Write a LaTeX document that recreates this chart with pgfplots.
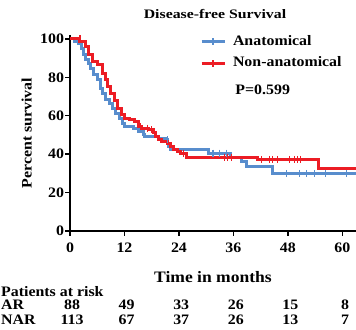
\documentclass[border=0pt]{standalone}
\usepackage{fontspec}
\setmainfont{Liberation Serif}[FakeStretch=1.1]
\newfontfamily\titlefont{Liberation Serif}[FakeStretch=1.22]
\usepackage{pgfplots}
\pgfplotsset{compat=1.18}
\definecolor{anablue}{RGB}{88,141,205}
\definecolor{nonred}{RGB}{236,28,36}
\begin{document}
\fontsize{14.5}{17}\selectfont\bfseries
\begin{tikzpicture}
\begin{axis}[
  at={(70bp,99bp)}, anchor=origin,
  scale only axis, width=286bp, height=196bp,
  xmin=0, xmax=63, ymin=0, ymax=102,
  axis lines=left,
  axis line style={-, line width=1.6bp, black},
  xtick={0,12,...,60}, ytick={0,20,...,100},
  tick style={line width=1.4bp, black},
  tick align=outside, major tick length=5bp,
  /pgf/number format/assume math mode=true,
  ticklabel style={font=\fontsize{14.5}{17}\selectfont\bfseries},
  xticklabel style={anchor=base, yshift=-22bp+5bp},
  yticklabel style={inner sep=0.8bp},
  xlabel={Time in months},
  xlabel style={at={(rel axis cs:0.5,-0.262)}, anchor=base, font=\fontsize{16}{19}\selectfont\bfseries},
  ylabel={Percent survival},
  ylabel style={at={(rel axis cs:-0.134,0.5)}, anchor=base, rotate=0, font=\fontsize{14.5}{17}\selectfont\bfseries},
  clip=false,
  legend style={at={(axis cs:28.6,103)}, anchor=north west, draw=none, fill=none,
    inner sep=0pt, row sep=5.5bp, column sep=5bp, cells={anchor=west},
    font=\fontsize{14.5}{17}\selectfont\bfseries},
  legend image code/.code={
    \draw[#1, line width=3bp] (0bp,0bp) -- (23bp,0bp);
    \draw[#1, line width=1.2bp] (11.5bp,-3.5bp) -- (11.5bp,3.5bp);
  },
]
% Anatomical (blue)
\addplot[const plot, color=anablue, line width=3bp] coordinates {
(0,100)(1.1,98.6)(1.9,97.7)(2.6,95)(3,91.7)(3.4,89)(4.1,87.3)(4.5,84.7)
(5.25,81.2)(6,78.6)(6.75,74.3)(7.1,71.7)(7.9,68.2)(8.6,66.5)(9.4,63.9)
(10.1,61.3)(10.9,58.7)(11.6,56)(12,54.3)(13.9,53.5)(15,51.7)(16.1,50)
(16.5,49.1)(19.5,48.3)(21,47.4)(21.4,45.3)(21.75,44)(22.1,42.4)
(30.5,40.5)(35.4,38.2)(37.8,36.3)(38.9,33.8)(44.5,30)(63,30)
};
\addlegendentry{Anatomical}
% Non-anatomical (red)
\addplot[const plot, color=nonred, line width=3bp] coordinates {
(0,100)(2.2,98.6)(3.4,96)(4.1,91.7)(4.9,88)(6,86.5)(7.1,82)(7.9,78.6)
(8.25,75)(9,71.7)(9.75,68)(10.5,64)(11.25,60.4)(12,58.7)(13.1,57.8)
(14.25,57)(15,54.3)(15.75,53.5)(17.25,52.6)(18.4,51)(18.75,49)(19.5,47.7)
(20.25,46.5)(21.4,45.3)(22.1,44)(22.9,42.2)(23.6,41.3)(24.4,40.5)
(25.6,38.5)(41.4,37.3)(54.75,32.3)(63,32.3)
};
\addlegendentry{Non-anatomical}
% censor marks
\addplot[forget plot, only marks, mark=|, mark size=3.5bp, color=anablue, mark options={line width=1.1bp}] coordinates {
(21.4,47.4)(31.5,40.5)(33,40.5)(34.5,40.5)(47.6,30)(50.5,30)(52,30)(53.8,30)(56.3,30)(61,30)
};
\addplot[forget plot, only marks, mark=|, mark size=3.5bp, color=nonred, mark options={line width=1.1bp}] coordinates {
(2.2,100)(15.5,54.3)(17,53.5)(18,52.6)(25,40.5)(34,38.5)(34.7,38.5)(35.5,38.5)
(42.1,37.3)(44,37.3)(44.6,37.3)(45.7,37.3)(48.4,37.3)(49.5,37.3)(50.1,37.3)(50.7,37.3)
};
\node[anchor=base west, inner sep=0pt, font=\fontsize{14.5}{17}\selectfont\bfseries] at (axis cs:36.4,70.8) {P=0.599};
\end{axis}
% title
\node[anchor=base, inner sep=0pt, font=\titlefont\fontsize{13}{15}\selectfont\bfseries] at (215bp,311.7bp) {Disease-free Survival};
% risk table
\begin{scope}[font=\fontsize{14.5}{17}\selectfont\bfseries]
\node[anchor=base west, inner sep=0pt] at (1bp,34bp) {Patients at risk};
\node[anchor=base west, inner sep=0pt] at (1bp,20.7bp) {AR};
\node[anchor=base west, inner sep=0pt] at (1bp,5.7bp) {NAR};
\foreach \x/\a/\b in {0/88/113, 12/49/67, 24/33/37, 36/26/26, 48/15/13, 60/8/7} {
  \node[anchor=base, inner sep=0pt] at ({72bp+4.55bp*\x},20.7bp) {\a};
  \node[anchor=base, inner sep=0pt] at ({72bp+4.55bp*\x},5.7bp) {\b};
}
\end{scope}
\pgfresetboundingbox
\path (0,0) rectangle (356bp,330bp);
\end{tikzpicture}
\end{document}
